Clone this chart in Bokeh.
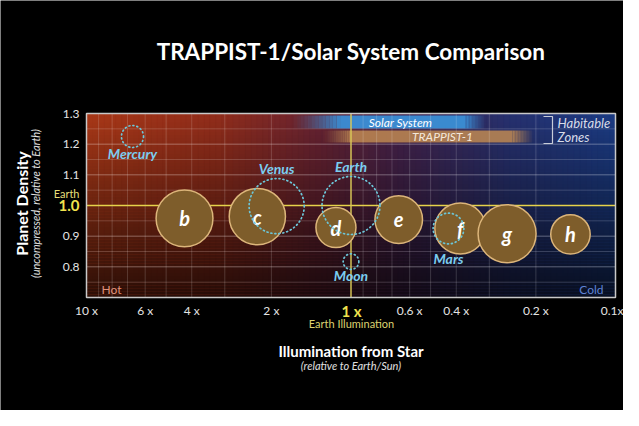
import numpy as np
from bokeh.plotting import figure
from bokeh.models import Range1d, FixedTicker, Label, LogAxis, LinearAxis
from bokeh.core.properties import value
from bokeh.embed import file_html
from bokeh.resources import INLINE

# ---------------- data ----------------
trappist_names = ["b", "c", "d", "e", "f", "g", "h"]
trappist_illum = [4.26, 2.26, 1.14, 0.66, 0.386, 0.257, 0.148]
trappist_density = [0.958, 0.964, 0.928, 0.954, 0.925, 0.908, 0.906]
trappist_radius = [0.98, 0.97, 0.69, 0.82, 0.88, 1.0, 0.68]

solar_names = ["Mercury", "Venus", "Earth", "Moon", "Mars"]
solar_illum = [6.7, 1.91, 1.0, 1.0, 0.428]
solar_density = [1.225, 0.998, 1.0, 0.817, 0.925]
solar_radius = [0.38, 0.95, 1.0, 0.27, 0.53]

hz_names = ["Solar System", "TRAPPIST-1"]
hz_inner = [1.1, 1.0]
hz_outer = [0.37, 0.245]

x_tick_values = [10, 6, 4, 2, 0.6, 0.4, 0.2, 0.1]
x_tick_labels = ["10 x", "6 x", "4 x", "2 x", "0.6 x", "0.4 x", "0.2 x", "0.1x"]
y_tick_values = [0.8, 0.9, 1.1, 1.2, 1.3]
y_tick_labels = ["0.8", "0.9", "1.1", "1.2", "1.3"]
earth_value = 1.0

# ---------------- layout / style ----------------
W, H = 623, 410
FL, FR, FT, FB = 86, 615, 113, 297      # plot box in canvas pixels
X0, X1 = 10.0, 0.1
Y0, Y1 = 0.7, 1.3
EARTH_PX = 29
FONT = "Lato"


def xd(px):
    return 10 ** (np.log10(X0) + (px - FL) / (FR - FL) * (np.log10(X1) - np.log10(X0)))


def yd(py):
    return Y1 - (py - FT) / (FB - FT) * (Y1 - Y0)


p = figure(width=W, height=H, x_axis_type="log",
           x_range=Range1d(xd(0), xd(W)), y_range=Range1d(yd(H), yd(0)),
           x_axis_location=None, y_axis_location=None,
           output_backend="svg", toolbar_location=None, title=None,
           min_border=0)
p.background_fill_color = "black"
p.border_fill_color = "black"
p.outline_line_color = None
p.grid.visible = False

# ---- background gradient ----
nx = 90
xe = np.logspace(np.log10(X0), np.log10(X1), nx + 1)
t = (np.arange(nx) + 0.5) / nx
st = [0.0, 0.25, 0.45, 0.6, 0.8, 1.0]
sc = np.array([[170, 57, 24], [146, 46, 28], [102, 35, 52],
               [68, 36, 78], [40, 50, 112], [28, 60, 132]])
cols = ["#%02x%02x%02x" % (int(np.interp(tt, st, sc[:, 0])),
                           int(np.interp(tt, st, sc[:, 1])),
                           int(np.interp(tt, st, sc[:, 2]))) for tt in t]
p.quad(left=xe[:-1], right=xe[1:], bottom=Y0, top=Y1, fill_color=cols,
       line_color=cols, line_width=1)
ny = 60
ye = np.linspace(Y1, Y0, ny + 1)
s = (np.arange(ny) + 0.5) / ny
p.quad(left=X0, right=X1, top=ye[:-1], bottom=ye[1:], fill_color="black",
       fill_alpha=0.74 * s, line_color=None)

# ---- habitable zone bars ----
hz_colors = ["#3b8fd6", "#c08a52"]
hz_alpha = [0.95, 0.85]
hz_ybounds = [(yd(115), yd(128)), (yd(130), yd(142))]
hz_label_py = [121.5, 136]
hz_fade_in = [1.7, 1.3]
hz_fade_out = [0.31, 0.204]
hz_label_px = [400, 442]
hz_label_colors = ["white", "#f4e8da"]
for i in range(2):
    top, bot = hz_ybounds[i]
    p.quad(left=hz_inner[i], right=hz_outer[i], top=top, bottom=bot,
           fill_color=hz_colors[i], fill_alpha=hz_alpha[i], line_color=None)
    nf = 14
    le = np.logspace(np.log10(hz_fade_in[i]), np.log10(hz_inner[i]), nf + 1)
    la = hz_alpha[i] * ((np.arange(nf) + 0.5) / nf) ** 1.3
    p.quad(left=le[:-1], right=le[1:], top=top, bottom=bot, fill_color=hz_colors[i],
           fill_alpha=la, line_color=None)
    re_ = np.logspace(np.log10(hz_outer[i]), np.log10(hz_fade_out[i]), nf + 1)
    ra = hz_alpha[i] * (1 - (np.arange(nf) + 0.5) / nf)
    p.quad(left=re_[:-1], right=re_[1:], top=top, bottom=bot, fill_color=hz_colors[i],
           fill_alpha=ra, line_color=None)

# ---- grid lines inside the plot box ----
grid_x = sorted(set([round(k * 10.0 ** e, 3) for e in (-1, 0) for k in range(1, 10)] + [10.0]))
p.segment(x0=grid_x, x1=grid_x, y0=Y0, y1=Y1, line_color="white", line_alpha=0.17, line_width=1)
grid_y_major = [0.8, 0.9, 1.1, 1.2]
grid_y_minor = [0.75, 0.85, 0.95, 1.05, 1.15, 1.25]
p.segment(x0=X0, x1=X1, y0=grid_y_major, y1=grid_y_major, line_color="white", line_alpha=0.33)
p.segment(x0=X0, x1=X1, y0=grid_y_minor, y1=grid_y_minor, line_color="white", line_alpha=0.17)

# ---- earth reference lines ----
p.segment(x0=X0, x1=X1, y0=earth_value, y1=earth_value, line_color="#e6d24a", line_width=1.6)
p.segment(x0=earth_value, x1=earth_value, y0=Y0, y1=Y1, line_color="#d9c752", line_width=1.4)

# ---- plot box outline ----
p.quad(left=X0, right=X1, bottom=Y0, top=Y1, fill_alpha=0, line_color="#c9c9c9", line_width=1.5)

# ---- axes (drawn at the plot-box edges) ----
xaxis = LogAxis(ticker=FixedTicker(ticks=x_tick_values), fixed_location=Y0,
                major_label_overrides={v: l for v, l in zip(x_tick_values, x_tick_labels)})
yaxis = LinearAxis(ticker=FixedTicker(ticks=y_tick_values), fixed_location=X0,
                   major_label_overrides={v: l for v, l in zip(y_tick_values, y_tick_labels)})
for ax in (xaxis, yaxis):
    ax.axis_line_color = None
    ax.major_tick_line_color = None
    ax.minor_tick_line_color = None
    ax.major_tick_out = 0
    ax.major_tick_in = 0
    ax.minor_tick_out = 0
    ax.minor_tick_in = 0
    ax.major_label_text_color = "#e4e4e4"
    ax.major_label_text_font = FONT
    ax.major_label_text_font_size = "12px"
xaxis.major_label_standoff = 5
yaxis.major_label_standoff = 7
p.add_layout(xaxis, "below")
p.add_layout(yaxis, "left")

# ---- TRAPPIST-1 planets ----
p.scatter(trappist_illum, trappist_density, marker="circle",
          size=[2 * r * EARTH_PX for r in trappist_radius],
          fill_color="#7e5d2b", line_color="#dcb57a", line_width=1.5)
p.text(trappist_illum, trappist_density, text=trappist_names,
       text_font=value(FONT), text_font_style="bold italic", text_font_size="20px",
       text_color="white", text_align="center", text_baseline="middle")

# ---- Solar system bodies (dotted outlines) ----
p.scatter(solar_illum, solar_density, marker="circle",
          size=[2 * r * EARTH_PX for r in solar_radius],
          fill_alpha=0, line_color="#6cc6d8", line_width=1.7, line_dash="1 3", line_cap="round")
solar_label_dy = [17, -38, -39, 14, 30]
p.text(solar_illum, solar_density, text=solar_names, y_offset=solar_label_dy,
       text_font=value(FONT), text_font_style="bold italic", text_font_size="14px",
       text_color="#7bcdf0", text_align="center", text_baseline="middle")


def label(px, py, text, size, color, style="normal", align="center", angle=0.0):
    p.add_layout(Label(x=xd(px), y=yd(py), text=text, text_font=FONT, text_font_style=style,
                       text_font_size=size, text_color=color, text_align=align,
                       text_baseline="middle", angle=angle))


# ---- texts inside the box ----
for i in range(2):
    label(hz_label_px[i], hz_label_py[i], hz_names[i], "12px", hz_label_colors[i], "italic")
p.multi_line(xs=[[xd(543), xd(552), xd(552), xd(543)]],
             ys=[[yd(116), yd(116), yd(143), yd(143)]], line_color="#c8ccd8", line_width=1.2)
label(557, 122, "Habitable", "13px", "#d8dce8", "italic", "left")
label(557, 136, "Zones", "13px", "#d8dce8", "italic", "left")
label(101, 289, "Hot", "12px", "#e0917a", align="left")
label(603, 289, "Cold", "12px", "#5f83d4", align="right")

# ---- texts outside the box ----
label((FL + FR) / 2, 51, "TRAPPIST-1/Solar System Comparison", "22.5px", "white", "bold")
label(21, 203, "Planet Density", "16px", "white", "bold", angle=np.pi / 2)
label(35, 203, "(uncompressed, relative to Earth)", "11px", "#e0e0e0", "italic", angle=np.pi / 2)
label(79, 193, "Earth", "11px", "#e6df78", align="right")
label(79, 205, "1.0", "15px", "#f1e34e", "bold", align="right")
label(351, 310, "1 x", "15px", "#f1e34e", "bold")
label(351, 323, "Earth Illumination", "11px", "#dcd270")
label((FL + FR) / 2, 350, "Illumination from Star", "15px", "white", "bold")
label((FL + FR) / 2, 365, "(relative to Earth/Sun)", "11px", "#e0e0e0", "italic")

open("out.html", "w").write(file_html(p, INLINE))
